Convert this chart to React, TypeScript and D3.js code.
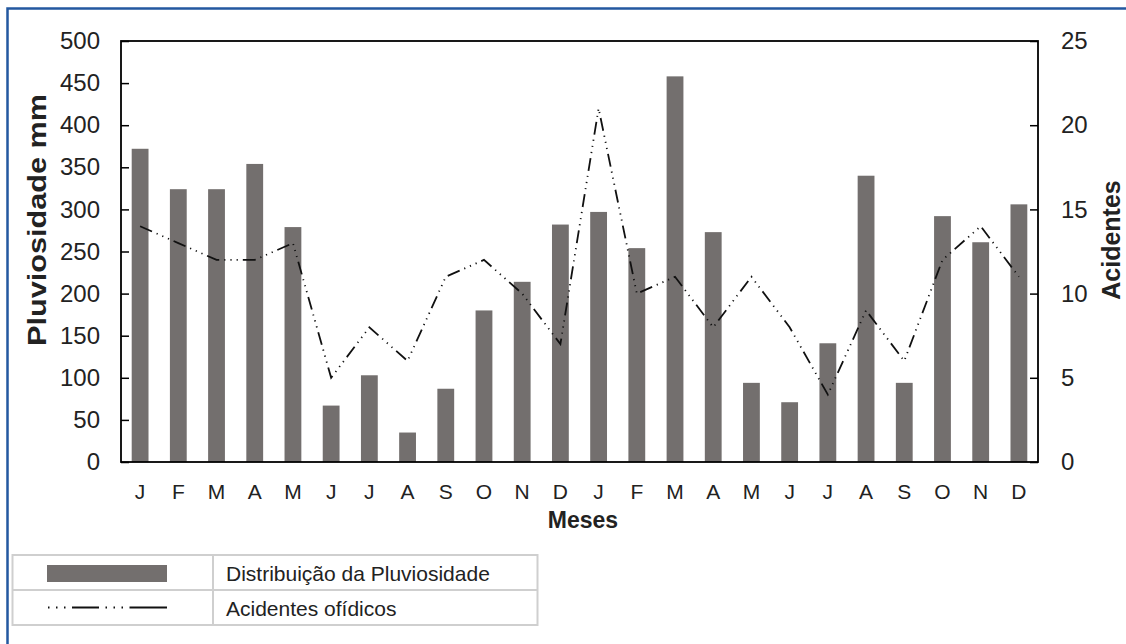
import React, { useEffect, useRef } from "react";
import * as d3 from "d3";

const months = ["J","F","M","A","M","J","J","A","S","O","N","D","J","F","M","A","M","J","J","A","S","O","N","D"];
const rainfall = [372,324,324,354,279,67,103,35,87,180,214,282,297,254,458,273,94,71,141,340,94,292,261,306];
const accidents = [14,13,12,12,13,5,8,6,11,12,10,7,21,10,11,8,11,8,4,9,6,12,14,11];
const leftTicks = [0,50,100,150,200,250,300,350,400,450,500];
const rightTicks = [0,5,10,15,20,25];

const W = 1126, H = 644;
const X0 = 121, X1 = 1038, Y0 = 462, Y1 = 41;
const FONT = "Liberation Sans, Arial, sans-serif";
const BAR = "#736f6e";
const DASH = "13,5,1.2,5,1.2,5,1.2,5";

export default function App() {
  const ref = useRef<SVGSVGElement>(null);
  useEffect(() => {
    const svg = d3.select(ref.current);
    svg.selectAll("*").remove();
    const idx = months.map((_, i) => i);
    const x = d3.scaleBand<number>().domain(idx).range([X0, X1]).paddingInner(0.56).paddingOuter(0.28);
    const yL = d3.scaleLinear().domain([0, 500]).range([Y0, Y1]);
    const yR = d3.scaleLinear().domain([0, 25]).range([Y0, Y1]);

    // blue frame
    svg.append("path").attr("d", `M7.5,${H} V8.5 H${W}`).attr("fill", "none")
      .attr("stroke", "#2358a0").attr("stroke-width", 2.5);

    // bars
    svg.append("g").selectAll("rect").data(rainfall).join("rect")
      .attr("x", (_, i) => x(i)!).attr("width", x.bandwidth())
      .attr("y", d => yL(d)).attr("height", d => Y0 - yL(d)).attr("fill", BAR);

    // line
    const line = d3.line<number>().x((_, i) => x(i)! + x.bandwidth() / 2).y(d => yR(d));
    svg.append("path").attr("d", line(accidents)!).attr("fill", "none")
      .attr("stroke", "#111").attr("stroke-width", 1.8).attr("stroke-dasharray", DASH);

    // frame
    svg.append("rect").attr("x", X0).attr("y", Y1).attr("width", X1 - X0).attr("height", Y0 - Y1)
      .attr("fill", "none").attr("stroke", "#000").attr("stroke-width", 1.8);

    const gl = svg.append("g").attr("transform", `translate(${X0},0)`)
      .call(d3.axisLeft(yL).tickValues(leftTicks).tickSizeInner(-8).tickSizeOuter(0).tickPadding(21));
    const gr = svg.append("g").attr("transform", `translate(${X1},0)`)
      .call(d3.axisRight(yR).tickValues(rightTicks).tickSizeInner(-8).tickSizeOuter(0).tickPadding(23));
    [gl, gr].forEach(g => {
      g.select(".domain").remove();
      g.selectAll("line").attr("stroke", "#000").attr("stroke-width", 1.5);
      g.selectAll("text").attr("font-family", FONT).attr("font-size", 24).attr("fill", "#222");
    });

    svg.append("g").selectAll("text").data(months).join("text")
      .attr("x", (_, i) => x(i)! + x.bandwidth() / 2).attr("y", 499)
      .attr("text-anchor", "middle").attr("font-family", FONT).attr("font-size", 21).attr("fill", "#222")
      .text(d => d);

    svg.append("text").attr("transform", "translate(46,220) rotate(-90)").attr("text-anchor", "middle")
      .attr("font-family", FONT).attr("font-size", 26).attr("font-weight", "bold").attr("fill", "#222")
      .attr("textLength", 252).attr("lengthAdjust", "spacingAndGlyphs")
      .text("Pluviosidade mm");
    svg.append("text").attr("transform", "translate(1120,240) rotate(-90)").attr("text-anchor", "middle")
      .attr("font-family", FONT).attr("font-size", 25).attr("font-weight", "bold").attr("fill", "#222")
      .text("Acidentes");
    svg.append("text").attr("x", 583).attr("y", 528).attr("text-anchor", "middle")
      .attr("font-family", FONT).attr("font-size", 23).attr("font-weight", "bold").attr("fill", "#222")
      .text("Meses");

    // legend
    const lg = svg.append("g");
    lg.append("rect").attr("x", 12.5).attr("y", 555).attr("width", 525).attr("height", 70)
      .attr("fill", "#fff").attr("stroke", "#cfcfcf").attr("stroke-width", 2);
    lg.append("line").attr("x1", 12.5).attr("x2", 537.5).attr("y1", 590).attr("y2", 590)
      .attr("stroke", "#cfcfcf").attr("stroke-width", 2);
    lg.append("line").attr("x1", 213).attr("x2", 213).attr("y1", 555).attr("y2", 625)
      .attr("stroke", "#cfcfcf").attr("stroke-width", 2);
    lg.append("rect").attr("x", 47).attr("y", 565).attr("width", 120).attr("height", 17).attr("fill", BAR);
    lg.append("path").attr("d", "M48,607.5 H167").attr("stroke", "#111").attr("stroke-width", 2.2)
      .attr("stroke-dasharray", "1.5,6.5,1.5,6.5,1.5,6.5,27,6.5,1.5,6.5,1.5,6.5,1.5,6.5,40");
    lg.append("text").attr("x", 226).attr("y", 581).attr("font-family", FONT).attr("font-size", 21)
      .attr("fill", "#222").text("Distribuição da Pluviosidade");
    lg.append("text").attr("x", 226).attr("y", 616).attr("font-family", FONT).attr("font-size", 21)
      .attr("fill", "#222").text("Acidentes ofídicos");
  }, []);
  return (
    <svg ref={ref} width={W} height={H} style={{ position: "absolute", left: 0, top: 0, background: "#fff" }} />
  );
}
